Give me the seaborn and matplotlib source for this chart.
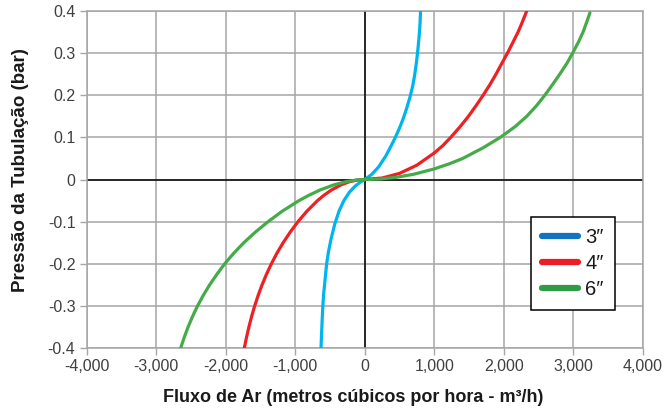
import numpy as np
import pandas as pd
import matplotlib
matplotlib.use("Agg")
import matplotlib.pyplot as plt
from matplotlib.lines import Line2D
import seaborn as sns

# Air flow (m³/h) against line pressure (bar) for each pipe diameter
series_names = ["3\u2033", "4\u2033", "6\u2033"]

flow_3 = [-629, -622, -614, -603, -590, -572, -548, -520, -483, -430, -370,
          -300, -220, -140, -70, 0, 100, 200, 300, 380, 440, 500, 555, 605,
          650, 690, 720, 745, 765, 782, 795, 802]
pres_3 = [-0.4, -0.37, -0.34, -0.3, -0.27, -0.24, -0.2, -0.17, -0.14, -0.105,
          -0.075, -0.05, -0.03, -0.016, -0.007, 0, 0.012, 0.03, 0.055, 0.08,
          0.1, 0.122, 0.145, 0.17, 0.195, 0.222, 0.25, 0.28, 0.31, 0.34,
          0.37, 0.4]

flow_4 = [-1732, -1701, -1666, -1627, -1583, -1533, -1477, -1414, -1343,
          -1264, -1174, -1073, -960, -831, -679, -592, -480, -339, -215, -105,
          0, 250, 500, 750, 1000, 1120, 1237, 1370, 1492, 1600, 1703, 1800,
          1888, 1970, 2053, 2130, 2206, 2270, 2330]
pres_4 = [-0.4, -0.375, -0.35, -0.325, -0.3, -0.275, -0.25, -0.225, -0.2,
          -0.175, -0.15, -0.125, -0.1, -0.075, -0.05, -0.038, -0.025, -0.0125,
          -0.005, -0.0012, 0, 0.0035, 0.0145, 0.034, 0.063, 0.08, 0.1, 0.125,
          0.15, 0.175, 0.2, 0.225, 0.25, 0.275, 0.3, 0.325, 0.35, 0.375, 0.4]

flow_6 = [-2647, -2597, -2541, -2477, -2405, -2323, -2231, -2127, -2015, -1885,
          -1740, -1575, -1390, -1185, -945, -810, -645, -440, -265, -120, 0,
          218, 446, 705, 997, 1221, 1410, 1700, 1950, 2160, 2330, 2470, 2590,
          2700, 2805, 2905, 2990, 3070, 3140, 3195, 3237]
pres_6 = [-0.4, -0.375, -0.35, -0.325, -0.3, -0.275, -0.25, -0.225, -0.2,
          -0.175, -0.15, -0.125, -0.1, -0.075, -0.05, -0.038, -0.025, -0.0125,
          -0.005, -0.0012, 0, 0.0012, 0.005, 0.0125, 0.025, 0.0375, 0.05,
          0.075, 0.1, 0.125, 0.15, 0.175, 0.2, 0.225, 0.25, 0.275, 0.3, 0.325,
          0.35, 0.375, 0.395]

x_ticks = [-4000, -3000, -2000, -1000, 0, 1000, 2000, 3000, 4000]
x_tick_labels = ["-4,000", "-3,000", "-2,000", "-1,000", "0",
                 "1,000", "2,000", "3,000", "4,000"]
y_ticks = [-0.4, -0.3, -0.2, -0.1, 0, 0.1, 0.2, 0.3, 0.4]
y_tick_labels = ["-0.4", "-0.3", "-0.2", "-0.1", "0", "0.1", "0.2", "0.3", "0.4"]

line_colors = ["#00b4f0", "#ee2024", "#44ab48"]
legend_colors = ["#1273c0", "#ee1c25", "#2f9b46"]

frames = []
for name, fl, pr in zip(series_names, [flow_3, flow_4, flow_6], [pres_3, pres_4, pres_6]):
    frames.append(pd.DataFrame({"flow": fl, "pressure": pr, "tubo": name}))
df = pd.concat(frames, ignore_index=True)

sns.set_theme(style="white")
plt.rcParams["font.family"] = ["Liberation Sans", "DejaVu Sans"]

W, H = 667, 412
ax_l, ax_r, ax_t, ax_b = 86.5, 643.0, 10.7, 348.3
fig = plt.figure(figsize=(W / 100, H / 100), dpi=100)
ax = fig.add_axes([ax_l / W, (H - ax_b) / H, (ax_r - ax_l) / W, (ax_b - ax_t) / H])

grid_c = "#a6a6a6"
for xv in x_ticks:
    ax.axvline(xv, color=grid_c, lw=1.1, zorder=0)
for yv in y_ticks:
    ax.axhline(yv, color=grid_c, lw=1.1, zorder=0)
ax.axvline(0, color="black", lw=1.1, zorder=1)
ax.axhline(0, color="black", lw=1.1, zorder=1)

sns.lineplot(data=df, x="flow", y="pressure", hue="tubo", palette=line_colors,
             estimator=None, sort=True, lw=2.3, legend=False, ax=ax, zorder=3)

ax.set_xlim(-4000, 4000)
ax.set_ylim(-0.4, 0.4)
ax.set_xticks(x_ticks)
ax.set_xticklabels(x_tick_labels)
ax.set_yticks(y_ticks)
ax.set_yticklabels(y_tick_labels)
ax.tick_params(axis="both", which="major", direction="out", length=5, width=1,
               color=grid_c, labelsize=11.5, labelcolor="#404040", pad=3,
               bottom=True, left=True)
for s in ax.spines.values():
    s.set_color(grid_c)
    s.set_linewidth(1.1)

ax.set_xlabel("Fluxo de Ar (metros cúbicos por hora - m³/h)", fontsize=13,
              fontweight="bold", color="#1a1a1a")
ax.set_ylabel("Pressão da Tubulação (bar)", fontsize=13.5, fontweight="bold",
              color="#1a1a1a")
aw, ah = ax_r - ax_l, ax_b - ax_t
ax.xaxis.set_label_coords((353 - ax_l) / aw, (ax_b - 389) / ah)
ax.yaxis.set_label_coords((29 - ax_l) / aw, (ax_b - 170) / ah)

handles = [Line2D([0], [0], color=c, lw=4.5) for c in legend_colors]
leg = ax.legend(handles, series_names, loc="upper left",
                bbox_to_anchor=((531 - ax_l) / aw, (ax_b - 216.5) / ah),
                fontsize=14.5, frameon=True, fancybox=False, framealpha=1,
                edgecolor="black", handlelength=1.8, handletextpad=0.35,
                borderpad=0.55, labelspacing=0.35, borderaxespad=0)
leg.get_frame().set_linewidth(1.1)
for t in leg.get_texts():
    t.set_color("#1a1a1a")

fig.savefig("out.png", dpi=100)
